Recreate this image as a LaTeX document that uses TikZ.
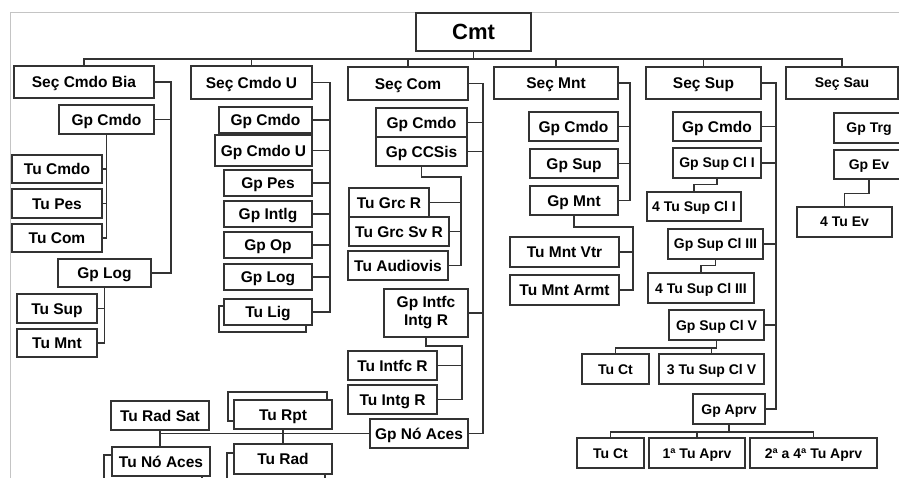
\documentclass[tikz,border=0pt]{standalone}
\usepackage{fontspec}
\setmainfont{Liberation Sans}
\usetikzlibrary{calc}
\definecolor{linec}{HTML}{333333}
\definecolor{framec}{HTML}{C4C4C4}
\tikzset{
  box/.style={draw=linec, line width=1.4pt, fill=white, inner sep=0pt, text=black,
    font=\bfseries\fontsize{15.5}{17}\selectfont},
  tx/.style={text height=11.1pt, text depth=0pt},
  sm/.style={font=\bfseries\fontsize{14}{16}\selectfont, text height=10pt, text depth=0pt},
  big/.style={font=\bfseries\fontsize{22}{24}\selectfont, text height=15.8pt, text depth=0pt},
  ln/.style={draw=linec, line width=1.6pt},
  frame/.style={draw=framec, line width=1pt}
}
\newcommand\obox[7]{\node[box,tx,#1,minimum width={(#5-#3)*1pt},minimum height={(#6-#4)*1pt}] (#2) at ({(#3+#5)/2},{(#4+#6)/2}) {#7};}
\begin{document}
\begin{tikzpicture}[x=1pt,y=-1pt]
\useasboundingbox (0,0) rectangle (899,478);
\clip (0,0) rectangle (899,478);
\fill[white] (0,0) rectangle (899,478);
% frame
\draw[frame] (10,478) -- (10,13) -- (899,13);
% top
\obox{big,line width=1.6pt}{cmt}{416}{13}{531}{51}{Cmt}
\coordinate (bus) at (0,59);
% level 1
\obox{}{sbia}{14}{66}{154}{98}{Seç Cmdo Bia}
\obox{}{scu}{191}{66}{312}{99}{Seç Cmdo U}
\obox{}{scom}{348}{67}{468}{100}{Seç Com}
\obox{}{smnt}{494}{67}{618}{99}{Seç Mnt}
\obox{}{ssup}{646}{67}{761}{99}{Seç Sup}
\obox{sm}{ssau}{786}{67}{898}{99}{Seç Sau}
\draw[ln] (cmt.south) -- (cmt.south |- bus);
\draw[ln] (sbia.north) -- (sbia.north |- bus) -- (ssau.north |- bus) -- (ssau.north);
\foreach \n in {scu,scom,smnt,ssup} \draw[ln] (\n.north) -- (\n.north |- bus);
% section 1
\obox{}{gcmdoA}{59}{105}{154}{134}{Gp Cmdo}
\obox{}{tcmdoA}{12}{155}{102}{183}{Tu Cmdo}
\obox{}{tpesA}{12}{189}{102}{218}{Tu Pes}
\obox{}{tcomA}{12}{224}{102}{252}{Tu Com}
\obox{}{glogA}{58}{259}{151}{287}{Gp Log}
\obox{}{tsupA}{17}{294}{97}{323}{Tu Sup}
\obox{}{tmntA}{17}{329}{97}{357}{Tu Mnt}
\coordinate (vA) at (171,0);
\draw[ln] (sbia.east) -- (sbia.east -| vA) |- (glogA.east);
\draw[ln] (gcmdoA.east) -- (gcmdoA.east -| vA);
\draw[ln] (gcmdoA.south) |- (tcomA.east);
\foreach \n in {tcmdoA,tpesA} \draw[ln] (\n.east) -- (\n.east -| gcmdoA.south);
\draw[ln] (glogA.south) |- (tmntA.east);
\draw[ln] (tsupA.east) -- (tsupA.east -| glogA.south);
% section 2
\obox{}{gcmdoB}{219}{107}{312}{133}{Gp Cmdo}
\obox{}{gcmdou}{215}{135}{312}{166}{Gp Cmdo U}
\obox{}{gpesB}{224}{170}{312}{196}{Gp Pes}
\obox{}{gintlg}{224}{201}{312}{227}{Gp Intlg}
\obox{}{gop}{224}{232}{312}{258}{Gp Op}
\obox{}{glogB}{224}{264}{312}{290}{Gp Log}
\obox{}{tligb}{219}{306}{306}{332}{}
\obox{}{tlig}{224}{299}{312}{325}{Tu Lig}
\coordinate (vB) at (330,0);
\draw[ln] (scu.east) -- (scu.east -| vB) |- (tlig.east);
\foreach \n in {gcmdoB,gcmdou,gpesB,gintlg,gop,glogB} \draw[ln] (\n.east) -- (\n.east -| vB);
% section 3
\obox{}{gcmdoC}{376}{108}{467}{137}{Gp Cmdo}
\obox{}{gccsis}{376}{137}{467}{166}{Gp CCSis}
\obox{}{tgrcr}{349}{188}{429}{217}{Tu Grc R}
\obox{}{tgrcsv}{349}{217}{449}{246}{Tu Grc Sv R}
\obox{}{taudio}{348}{251}{448}{280}{Tu Audiovis}
\node[box,align=center,minimum width=84pt,minimum height=48pt] (gintfc) at (426,313) {Gp Intfc\\[1pt]Intg R};
\obox{}{tintfc}{348}{351}{437}{380}{Tu Intfc R}
\obox{}{tintg}{348}{385}{437}{414}{Tu Intg R}
\obox{}{gnoaces}{370}{419}{468}{448}{Gp Nó Aces}
\coordinate (vC) at (483,0);
\coordinate (v3a) at (461,177);
\coordinate (v3b) at (462,346);
\draw[ln] (scom.east) -- (scom.east -| vC) |- (gnoaces.east);
\foreach \n in {gcmdoC,gccsis,gintfc} \draw[ln] (\n.east) -- (\n.east -| vC);
\draw[ln] (gccsis.south) |- (v3a) |- (taudio.east);
\foreach \n in {tgrcr,tgrcsv} \draw[ln] (\n.east) -- (\n.east -| v3a);
\draw[ln] (gintfc.south) |- (v3b) |- (tintg.east);
\draw[ln] (tintfc.east) -- (tintfc.east -| v3b);
% bottom-left group
\obox{}{turadsat}{111}{401}{209}{430}{Tu Rad Sat}
\obox{}{turptb}{228}{392}{327}{421}{}
\obox{}{turpt}{234}{400}{332}{429}{Tu Rpt}
\obox{}{tunob}{104}{455}{202}{484}{}
\obox{}{tuno}{112}{447}{210}{476}{Tu Nó Aces}
\obox{}{turadb}{227}{453}{325}{483}{}
\obox{}{turad}{234}{444}{332}{474}{Tu Rad}
\draw[ln] (gnoaces.west) -- (gnoaces.west -| turadsat.south);
\draw[ln] (turadsat.south) -- (turadsat.south |- tuno.north);
\draw[ln] (turpt.south) -- (turpt.south |- turad.north);
% section 4
\obox{}{gcmdoD}{529}{112}{618}{141}{Gp Cmdo}
\obox{}{gsupD}{530}{149}{618}{178}{Gp Sup}
\obox{}{gmntD}{530}{186}{618}{215}{Gp Mnt}
\obox{}{tmntvtr}{510}{237}{619}{267}{Tu Mnt Vtr}
\obox{}{tmntarmt}{510}{275}{619}{305}{Tu Mnt Armt}
\coordinate (vD) at (630,0);
\coordinate (v4) at (633,227);
\draw[ln] (smnt.east) -- (smnt.east -| vD) |- (gmntD.east);
\foreach \n in {gcmdoD,gsupD} \draw[ln] (\n.east) -- (\n.east -| vD);
\draw[ln] (gmntD.south) |- (v4) |- (tmntarmt.east);
\draw[ln] (tmntvtr.east) -- (tmntvtr.east -| v4);
% section 5
\obox{}{gcmdoE}{673}{112}{761}{141}{Gp Cmdo}
\obox{sm}{gsupcl1}{673}{148}{761}{178}{Gp Sup Cl I}
\obox{sm}{tsupcl1}{647}{192}{741}{221}{4 Tu Sup Cl I}
\obox{sm}{gsupcl3}{668}{229}{763}{259}{Gp Sup Cl III}
\obox{sm}{tsupcl3}{648}{273}{754}{303}{4 Tu Sup Cl III}
\obox{sm}{gsupcl5}{669}{310}{764}{340}{Gp Sup Cl V}
\obox{sm}{tctA}{582}{354}{649}{384}{Tu Ct}
\obox{sm}{tsupcl5}{659}{354}{764}{384}{3 Tu Sup Cl V}
\obox{sm}{gaprv}{693}{394}{765}{424}{Gp Aprv}
\obox{sm}{tctB}{577}{438}{644}{468}{Tu Ct}
\obox{sm}{taprv1}{649}{438}{745}{468}{1ª Tu Aprv}
\obox{sm}{taprv2}{750}{438}{877}{468}{2ª a 4ª Tu Aprv}
\coordinate (vE) at (776,0);
\draw[ln] (ssup.east) -- (ssup.east -| vE) |- (gaprv.east);
\foreach \n in {gcmdoE,gsupcl1,gsupcl3,gsupcl5} \draw[ln] (\n.east) -- (\n.east -| vE);
\draw[ln] (gsupcl1.south) -- ++(0,6) -| (tsupcl1.north);
\draw[ln] (gsupcl3.south) -- ++(0,6) -| (tsupcl3.north);
\draw[ln] (gsupcl5.south) -- ++(0,7) -| (tctA.north);
\draw[ln] (gsupcl5.south) ++(0,7) -| (tsupcl5.north);
\draw[ln] (gaprv.south) -- ++(0,7) -| (tctB.north);
\draw[ln] (gaprv.south) ++(0,7) -| (taprv1.north);
\draw[ln] (gaprv.south) ++(0,7) -| (taprv2.north);
% section 6
\obox{sm}{gtrg}{834}{113}{904}{143}{Gp Trg}
\obox{sm}{gev}{834}{150}{904}{179}{Gp Ev}
\obox{sm}{tev}{797}{207}{892}{237}{4 Tu Ev}
\draw[ln] (gev.south) -- ++(0,14) -| (tev.north);
\end{tikzpicture}
\end{document}
